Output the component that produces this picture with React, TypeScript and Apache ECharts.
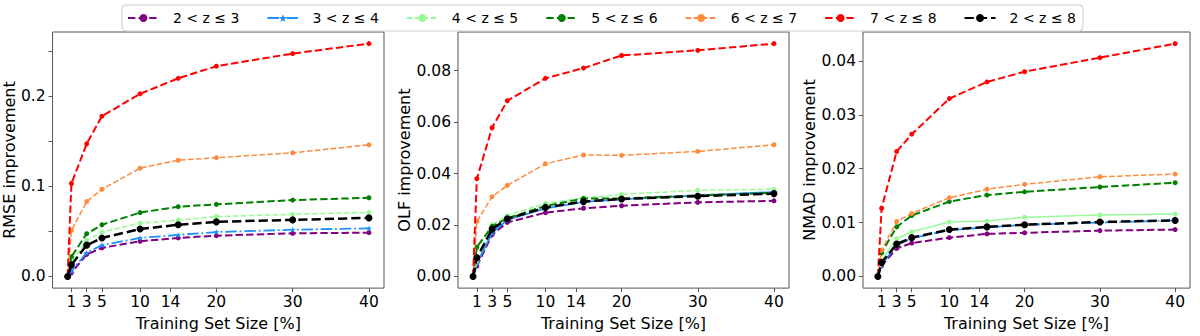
import React, { useEffect, useRef } from "react";
import * as echarts from "echarts";

// x positions of the measurements (training set size, %)
const trainingSizes = [0.5, 1, 3, 5, 10, 15, 20, 30, 40];
const xTickValues = [1, 3, 5, 10, 14, 20, 30, 40];

const seriesNames = ["2 < z ≤ 3", "3 < z ≤ 4", "4 < z ≤ 5", "5 < z ≤ 6", "6 < z ≤ 7", "7 < z ≤ 8", "2 < z ≤ 8"];

// RMSE improvement
const rmseZ23 = [0, 0.004, 0.0244, 0.0317, 0.039, 0.0427, 0.0452, 0.0478, 0.0485];
const rmseZ34 = [0, 0.006, 0.0263, 0.0347, 0.0427, 0.046, 0.0492, 0.0518, 0.0533];
const rmseZ45 = [0, 0.016, 0.0397, 0.0492, 0.059, 0.0624, 0.0664, 0.0689, 0.0711];
const rmseZ56 = [0, 0.0219, 0.0474, 0.0573, 0.0708, 0.0773, 0.0799, 0.0846, 0.0872];
const rmseZ67 = [0, 0.051, 0.083, 0.0966, 0.12, 0.1288, 0.1316, 0.137, 0.1459];
const rmseZ78 = [0, 0.103, 0.147, 0.1776, 0.2024, 0.2196, 0.233, 0.247, 0.258];
const rmseZ28 = [0, 0.0128, 0.0347, 0.0427, 0.0525, 0.0573, 0.0605, 0.0627, 0.0649];

// OLF improvement
const olfZ23 = [0, 0.004, 0.0162, 0.021, 0.0248, 0.0265, 0.0275, 0.0288, 0.0294];
const olfZ34 = [0, 0.005, 0.0169, 0.022, 0.0265, 0.029, 0.03, 0.0315, 0.0328];
const olfZ45 = [0, 0.006, 0.0201, 0.0237, 0.0284, 0.0306, 0.0319, 0.0335, 0.0339];
const olfZ56 = [0, 0.0114, 0.0195, 0.0226, 0.0274, 0.0303, 0.0303, 0.0315, 0.0325];
const olfZ67 = [0, 0.0214, 0.031, 0.0354, 0.0438, 0.0472, 0.0471, 0.0486, 0.0512];
const olfZ78 = [0, 0.038, 0.0578, 0.0683, 0.077, 0.081, 0.0859, 0.0879, 0.0905];
const olfZ28 = [0, 0.0073, 0.0184, 0.0224, 0.0268, 0.0291, 0.0301, 0.0312, 0.0322];

// NMAD improvement
const nmadZ23 = [0, 0.002, 0.0052, 0.0062, 0.0072, 0.0079, 0.0081, 0.0085, 0.0087];
const nmadZ34 = [0, 0.0022, 0.0058, 0.0071, 0.0086, 0.0091, 0.0096, 0.01, 0.0104];
const nmadZ45 = [0, 0.003, 0.007, 0.0083, 0.0101, 0.0103, 0.011, 0.0114, 0.0116];
const nmadZ56 = [0, 0.0044, 0.0092, 0.0113, 0.0139, 0.0151, 0.0157, 0.0166, 0.0174];
const nmadZ67 = [0, 0.0049, 0.0102, 0.0117, 0.0146, 0.0162, 0.0171, 0.0185, 0.019];
const nmadZ78 = [0, 0.01266, 0.0232, 0.0264, 0.033, 0.0361, 0.038, 0.0406, 0.0432];
const nmadZ28 = [0, 0.0026, 0.006, 0.0072, 0.0087, 0.0092, 0.0096, 0.0101, 0.0104];

const panelNames = ["RMSE improvement", "OLF improvement", "NMAD improvement"];
const yLabelValues = [
  [0, 0.1, 0.2],
  [0, 0.02, 0.04, 0.06, 0.08],
  [0, 0.01, 0.02, 0.03, 0.04],
];
const yTickValues = [
  [0, 0.05, 0.1, 0.15, 0.2, 0.25],
  [0, 0.02, 0.04, 0.06, 0.08],
  [0, 0.01, 0.02, 0.03, 0.04],
];
const yDecimals = [1, 2, 2];

const panelData = [
  [rmseZ23, rmseZ34, rmseZ45, rmseZ56, rmseZ67, rmseZ78, rmseZ28],
  [olfZ23, olfZ34, olfZ45, olfZ56, olfZ67, olfZ78, olfZ28],
  [nmadZ23, nmadZ34, nmadZ45, nmadZ56, nmadZ67, nmadZ78, nmadZ28],
];

// styles
const colors = ["#800080", "#1E90FF", "#98FB98", "#008000", "#FF8A3D", "#FF0000", "#000000"];
const widths = [2, 1.8, 1.5, 2, 1.5, 2, 2.5];
const symbolSizes = [5, 6, 5, 5, 5, 5, 7];
const STAR =
  "path://M0,-10L2.35,-3.24L9.51,-3.09L3.8,1.24L5.88,8.09L0,4L-5.88,8.09L-3.8,1.24L-9.51,-3.09L-2.35,-3.24Z";
const symbols = ["circle", STAR, "circle", "circle", "circle", "circle", "circle"];
// per panel line styles: 'd' dashed, 'dd' dash-dot, 's' solid
const lineKinds = [
  ["d", "dd", "d", "d", "d", "d", "d"],
  ["d", "s", "d", "d", "d", "d", "d"],
  ["d", "dd", "s", "d", "d", "d", "d"],
];

const grids = [
  { left: 52, width: 332, top: 32, height: 258 },
  { left: 458, width: 331, top: 32, height: 258 },
  { left: 863, width: 327, top: 32, height: 258 },
];
const nameGaps = [30, 42, 42];

function dashFor(kind: string, lw: number): any {
  if (kind === "s") return "solid";
  if (kind === "dd") return [6.4 * lw, 1.6 * lw, 1 * lw, 1.6 * lw];
  return [3.7 * lw, 1.6 * lw];
}

export default function App() {
  const ref = useRef<HTMLDivElement>(null);
  useEffect(() => {
    if (!ref.current) return;
    const chart = echarts.init(ref.current, undefined, { renderer: "svg" });
    const font = "DejaVu Sans";
    const axisColor = "#555";

    const xAxis = grids.map((_, i) => ({
      type: "value",
      gridIndex: i,
      min: -1.475,
      max: 41.975,
      name: "Training Set Size [%]",
      nameLocation: "middle",
      nameGap: 23,
      nameTextStyle: { fontFamily: font, fontSize: 16, color: "#000" },
      axisLine: { show: false, onZero: false },
      splitLine: { show: false },
      axisTick: {
        show: true,
        length: 4,
        customValues: xTickValues,
        lineStyle: { color: axisColor, width: 1 },
      },
      axisLabel: {
        customValues: xTickValues,
        fontFamily: font,
        fontSize: 15.5,
        color: "#000",
        margin: 6,
        showMinLabel: true,
        showMaxLabel: true,
      },
    }));

    const yAxis = grids.map((_, i) => {
      const maxV = Math.max(...panelData[i].map((a) => Math.max(...a)));
      return {
        type: "value",
        gridIndex: i,
        min: -0.05 * maxV,
        max: 1.05 * maxV,
        name: panelNames[i],
        nameLocation: "middle",
        nameGap: nameGaps[i],
        nameTextStyle: { fontFamily: font, fontSize: 16, color: "#000" },
        axisLine: { show: false, onZero: false },
        splitLine: { show: false },
        axisTick: {
          show: true,
          length: 4,
          customValues: yTickValues[i],
          lineStyle: { color: axisColor, width: 1 },
        },
        axisLabel: {
          customValues: yLabelValues[i],
          fontFamily: font,
          fontSize: 15.5,
          color: "#000",
          margin: 7,
          formatter: (v: number) => v.toFixed(yDecimals[i]),
        },
      };
    });

    const series: any[] = [];
    panelData.forEach((arrs, p) => {
      arrs.forEach((vals, s) => {
        series.push({
          type: "line",
          name: seriesNames[s],
          xAxisIndex: p,
          yAxisIndex: p,
          data: trainingSizes.map((x, k) => [x, vals[k]]),
          symbol: symbols[s],
          symbolSize: symbolSizes[s],
          showAllSymbol: true,
          itemStyle: { color: colors[s], borderWidth: 0 },
          lineStyle: { color: colors[s], width: widths[s], type: dashFor(lineKinds[p][s], widths[s]) },
          z: 2 + s,
          emphasis: { disabled: true },
        });
      });
    });

    chart.setOption({
      animation: false,
      backgroundColor: "#fff",
      textStyle: { fontFamily: font },
      grid: grids.map((g) => ({
        ...g,
        show: true,
        borderColor: axisColor,
        borderWidth: 1,
        backgroundColor: "transparent",
        containLabel: false,
      })),
      legend: {
        data: seriesNames,
        left: 122,
        top: 5,
        padding: [6, 7, 6, 5],
        itemWidth: 31,
        itemHeight: 10,
        itemGap: 27,
        backgroundColor: "#fff",
        borderColor: "#ccc",
        borderWidth: 1,
        borderRadius: 4,
        textStyle: { fontFamily: font, fontSize: 14, color: "#000", padding: [0, 0, 0, 9] },
        z: 10,
      },
      xAxis,
      yAxis,
      series,
    });
    return () => chart.dispose();
  }, []);
  return <div ref={ref} style={{ position: "absolute", left: 0, top: 0, width: 1200, height: 336 }} />;
}
